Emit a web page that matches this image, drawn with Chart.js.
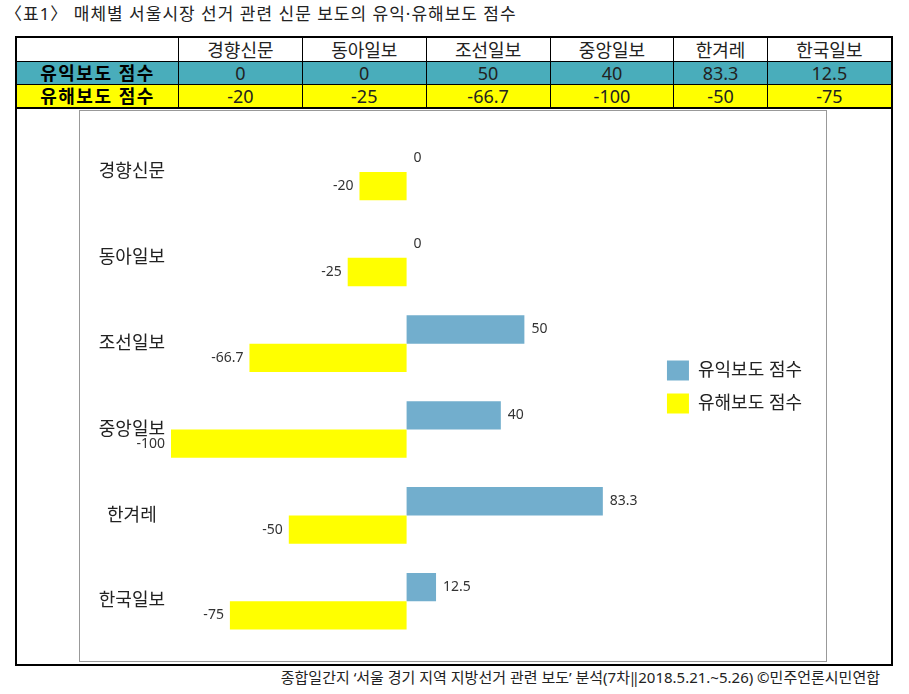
<!DOCTYPE html>
<html>
<head>
<meta charset="utf-8">
<script src="https://cdn.jsdelivr.net/npm/chart.js@4"></script>
<style>
  body { margin: 0; background: #fff; font-family: "Noto Sans", "Noto Sans CJK KR", sans-serif; color: #222; }
  #title { position: absolute; left: 5px; top: 0px; font-size: 17px; letter-spacing: 1px; white-space: nowrap; }
  #tbl { position: absolute; left: 15px; top: 36px; width: 878px; border-collapse: collapse; border: 2px solid #000; }
  #tbl td { border: 1px solid #000; text-align: center; font-size: 18px; padding: 0; line-height: 22px; white-space: nowrap; }
  #tbl tr.head td { height: 23px; background: #fff; }
  #tbl tr.good td { height: 22px; background: #49adbb; }
  #tbl tr.bad td { height: 22px; background: #ffff00; }
  #tbl td.lab { font-weight: bold; color: #000; width: 161px; letter-spacing: 1.5px; }
  #frame { position: absolute; left: 15px; top: 108px; width: 874px; height: 556px; border: 2px solid #000; border-top: none; }
  #box { position: absolute; left: 79px; top: 110px; width: 746px; height: 550px; border: 1px solid #999; }
  #foot { position: absolute; right: 29px; top: 666px; font-size: 15px; white-space: nowrap; }
</style>
</head>
<body>
<div id="title">〈표1〉 매체별 서울시장 선거 관련 신문 보도의 유익·유해보도 점수</div>
<table id="tbl"></table>
<div id="frame"></div>
<div id="box"><canvas id="chartCanvas" width="746" height="550"></canvas></div>
<div id="foot">종합일간지 ‘서울 경기 지역 지방선거 관련 보도’ 분석(7차‖2018.5.21.~5.26) ©민주언론시민연합</div>
<script>
// data
const papers = ['경향신문', '동아일보', '조선일보', '중앙일보', '한겨레', '한국일보'];
const seriesNames = ['유익보도 점수', '유해보도 점수'];
const goodScores = [0, 0, 50, 40, 83.3, 12.5];
const badScores = [-20, -25, -66.7, -100, -50, -75];

// table above the chart
function buildTable() {
    const tbl = document.getElementById('tbl');
    let html = '<tr class="head"><td class="lab"></td>' + papers.map(p => '<td>' + p + '</td>').join('') + '</tr>';
    html += '<tr class="good"><td class="lab">' + seriesNames[0] + '</td>' + goodScores.map(v => '<td>' + v + '</td>').join('') + '</tr>';
    html += '<tr class="bad"><td class="lab">' + seriesNames[1] + '</td>' + badScores.map(v => '<td>' + v + '</td>').join('') + '</tr>';
    tbl.innerHTML = html;
}
buildTable();

// value labels next to each bar
const barLabels = {
    id: 'barLabels',
    afterDatasetsDraw(chart) {
        const ctx = chart.ctx;
        ctx.save();
        ctx.font = '14px "Noto Sans", "Noto Sans CJK KR", sans-serif';
        ctx.fillStyle = '#333';
        ctx.textBaseline = 'middle';
        chart.data.datasets.forEach((ds, i) => {
            chart.getDatasetMeta(i).data.forEach((bar, j) => {
                const v = ds.data[j];
                if (v < 0) {
                    ctx.textAlign = 'right';
                    ctx.fillText(String(v), bar.x - 6, bar.y);
                } else {
                    ctx.textAlign = 'left';
                    ctx.fillText(String(v), bar.x + 7, bar.y);
                }
            });
        });
        ctx.restore();
    }
};

const ctx = document.getElementById('chartCanvas').getContext('2d');
window.myChart = new Chart(ctx, {
    type: 'bar',
    data: {
        labels: papers,
        datasets: [
            { label: seriesNames[0], data: goodScores, backgroundColor: '#72aecd' },
            { label: seriesNames[1], data: badScores, backgroundColor: '#ffff00' }
        ]
    },
    options: {
        indexAxis: 'y',
        responsive: false,
        animation: false,
        categoryPercentage: 0.66,
        barPercentage: 1,
        layout: { padding: { top: 18, bottom: 16, left: 0, right: 14 } },
        scales: {
            x: { display: false, min: -100, max: 105 },
            y: {
                grid: { display: false, drawTicks: false },
                border: { display: false },
                afterFit: (axis) => { axis.width = 91; },
                ticks: {
                    crossAlign: 'center',
                    padding: 6,
                    color: '#222',
                    font: { size: 18, family: '"Noto Sans", "Noto Sans CJK KR", sans-serif' }
                }
            }
        },
        plugins: {
            tooltip: { enabled: false },
            legend: {
                position: 'right',
                labels: {
                    boxWidth: 22,
                    boxHeight: 20,
                    padding: 13,
                    color: '#222',
                    font: { size: 18, family: '"Noto Sans", "Noto Sans CJK KR", sans-serif' }
                }
            }
        }
    },
    plugins: [barLabels]
});
</script>
</body>
</html>
